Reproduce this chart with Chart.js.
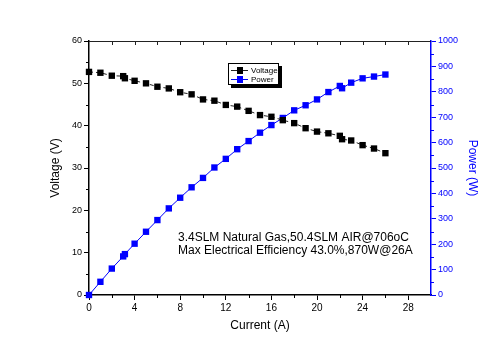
<!DOCTYPE html>
<html>
<head>
<meta charset="utf-8">
<script src="https://cdn.jsdelivr.net/npm/chart.js@4/dist/chart.umd.min.js"></script>
<style>
  body { margin: 0; background: #fff; }
  canvas { display: block; }
</style>
</head>
<body>
<canvas id="chart" width="500" height="353"></canvas>
<script>
// Data
const current = [0, 1, 2, 3, 3.15, 4, 5, 6, 7, 8, 9, 10, 11, 12, 13, 14, 15, 16, 17, 18, 19, 20, 21, 22, 22.2, 23, 24, 25, 26];
const voltage = [52.7, 52.5, 51.8, 51.7, 51.2, 50.6, 50.0, 49.2, 48.8, 47.9, 47.4, 46.2, 45.9, 44.9, 44.5, 43.5, 42.5, 42.1, 41.3, 40.6, 39.4, 38.6, 38.2, 37.6, 36.8, 36.5, 35.4, 34.6, 33.5];
const power = [0, 52, 104, 152, 161, 202, 249, 295, 341, 383, 424, 461, 502, 536, 574, 606, 639, 669, 697, 727, 747, 770, 799, 823, 814, 836, 853, 860, 868];
const noteLines = ['3.4SLM Natural Gas,50.4SLM AIR@706oC', 'Max Electrical Efficiency 43.0%,870W@26A'];

const BLUE = '#0000ff';
Chart.defaults.font.family = '"Liberation Sans", Arial, sans-serif';
Chart.defaults.color = '#000';

// minor ticks, top frame line, note text and the boxed legend
const extras = {
    id: 'extras',
    afterDraw(chart) {
        const ctx = chart.ctx;
        const a = chart.chartArea;
        const x = chart.scales.x, y = chart.scales.y, y1 = chart.scales.y1;
        ctx.save();
        ctx.lineWidth = 1;

        // top frame + inward ticks
        ctx.strokeStyle = '#222';
        ctx.beginPath();
        ctx.moveTo(a.left, a.top + 0.5);
        ctx.lineTo(a.right, a.top + 0.5);
        for (let v = 2; v < 30; v += 2) {
            const px = Math.round(x.getPixelForValue(v)) + 0.5;
            ctx.moveTo(px, a.top);
            ctx.lineTo(px, a.top + 4);
        }
        ctx.stroke();

        // minor ticks bottom / left
        ctx.strokeStyle = '#000';
        ctx.beginPath();
        for (let v = 2; v < 30; v += 4) {
            const px = Math.round(x.getPixelForValue(v)) + 0.5;
            ctx.moveTo(px, a.bottom);
            ctx.lineTo(px, a.bottom + 3);
        }
        for (let v = 5; v < 60; v += 10) {
            const py = Math.round(y.getPixelForValue(v)) + 0.5;
            ctx.moveTo(a.left, py);
            ctx.lineTo(a.left - 3, py);
        }
        ctx.stroke();

        // minor ticks right
        ctx.strokeStyle = BLUE;
        ctx.beginPath();
        for (let v = 50; v < 1000; v += 100) {
            const py = Math.round(y1.getPixelForValue(v)) + 0.5;
            ctx.moveTo(a.right, py);
            ctx.lineTo(a.right + 3, py);
        }
        ctx.stroke();

        // note text
        ctx.fillStyle = '#000';
        ctx.font = '12px "Liberation Sans", Arial, sans-serif';
        ctx.textBaseline = 'middle';
        ctx.fillText(noteLines[0], 178, 238);
        ctx.fillText(noteLines[1], 178, 251);

        // legend box with shadow
        const lx = 228, ly = 63, lw = 51, lh = 22;
        ctx.fillStyle = '#000';
        ctx.fillRect(lx + 3, ly + 3, lw, lh);
        ctx.fillStyle = '#fff';
        ctx.fillRect(lx, ly, lw, lh);
        ctx.strokeStyle = '#000';
        ctx.strokeRect(lx + 0.5, ly + 0.5, lw - 1, lh - 1);
        ctx.font = '8px "Liberation Sans", Arial, sans-serif';
        chart.data.datasets.forEach((ds, i) => {
            const ry = ly + 7 + i * 9;
            ctx.strokeStyle = ds.borderColor;
            ctx.beginPath();
            ctx.moveTo(lx + 3, ry + 0.5);
            ctx.lineTo(lx + 20, ry + 0.5);
            ctx.stroke();
            ctx.fillStyle = ds.backgroundColor;
            ctx.fillRect(lx + 9, ry - 3, 6, 7);
            ctx.fillStyle = '#000';
            ctx.fillText(ds.label, lx + 23, ry + 0.5);
        });
        ctx.restore();
    }
};

new Chart(document.getElementById('chart'), {
    type: 'line',
    data: {
        datasets: [
            {
                label: 'Voltage',
                data: current.map((c, i) => ({ x: c, y: voltage[i] })),
                yAxisID: 'y',
                borderColor: '#222',
                backgroundColor: '#000',
                borderWidth: 1,
                borderDash: [4, 3],
                pointStyle: 'rect',
                pointRadius: 4.5,
                pointBorderWidth: 0,
                clip: false
            },
            {
                label: 'Power',
                data: current.map((c, i) => ({ x: c, y: power[i] })),
                yAxisID: 'y1',
                borderColor: BLUE,
                backgroundColor: BLUE,
                borderWidth: 1,
                pointStyle: 'rect',
                pointRadius: 4.5,
                pointBorderWidth: 0,
                clip: false
            }
        ]
    },
    options: {
        responsive: false,
        animation: false,
        layout: { padding: { top: 41, left: 0, right: 0, bottom: 0 } },
        plugins: { legend: { display: false }, tooltip: { enabled: false } },
        scales: {
            x: {
                type: 'linear',
                min: 0, max: 30,
                afterFit: s => { s.height = 58; },
                ticks: { stepSize: 4, includeBounds: false, font: { size: 10 }, padding: 2, maxRotation: 0 },
                grid: { drawOnChartArea: false, tickLength: 5, tickColor: '#000' },
                border: { color: '#000', width: 1.5 },
                title: { display: true, text: 'Current (A)', font: { size: 12 }, padding: { top: 0, bottom: 20 } }
            },
            y: {
                position: 'left',
                min: 0, max: 60,
                afterFit: s => { s.width = 89; },
                ticks: { stepSize: 10, font: { size: 9 }, padding: 2 },
                grid: { drawOnChartArea: false, tickLength: 5, tickColor: '#000' },
                border: { color: '#000', width: 1.5 },
                title: { display: true, text: 'Voltage (V)', font: { size: 12 }, padding: { top: 48, bottom: 0 } }
            },
            y1: {
                position: 'right',
                min: 0, max: 1000,
                afterFit: s => { s.width = 69; },
                ticks: { stepSize: 100, color: BLUE, font: { size: 9 }, padding: 2, callback: v => String(v) },
                grid: { drawOnChartArea: false, tickLength: 5, tickColor: BLUE },
                border: { color: BLUE, width: 1.5 },
                title: { display: true, text: 'Power (W)', color: BLUE, font: { size: 12 }, padding: { top: 20, bottom: 0 } }
            }
        }
    },
    plugins: [extras]
});
</script>
</body>
</html>
